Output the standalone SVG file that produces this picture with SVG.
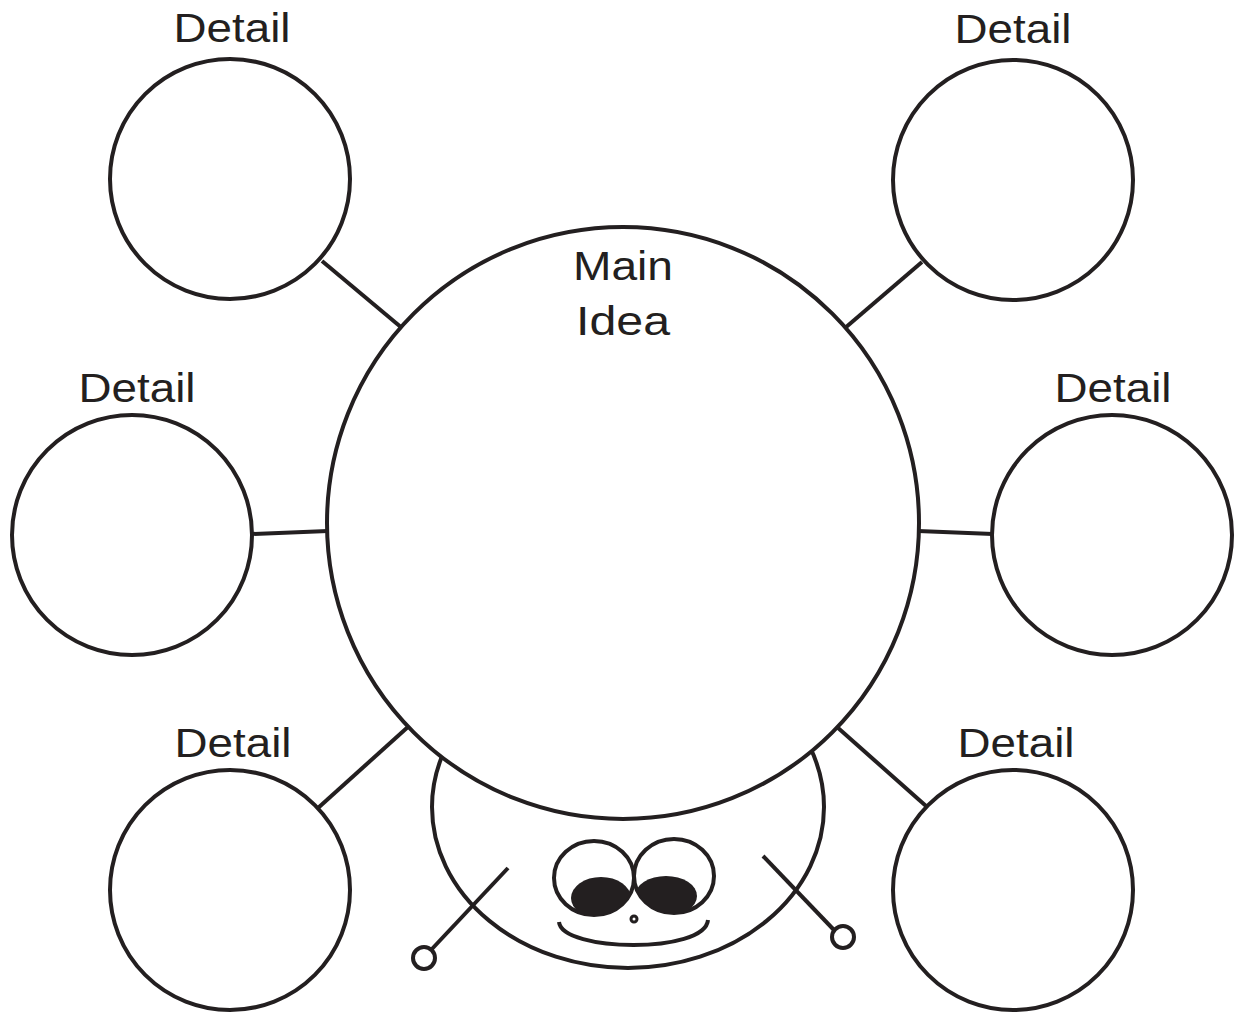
<svg xmlns="http://www.w3.org/2000/svg" width="1239" height="1016" viewBox="0 0 1239 1016">
  <style>
    .ring { fill: #fff; stroke: #231f20; stroke-width: 4; }
    .link { stroke: #231f20; stroke-width: 4; fill: none; }
    .label { font-family: "Liberation Sans", Arial, sans-serif; font-size: 41px; fill: #231f20; text-anchor: middle; }
    .ink { stroke: #231f20; stroke-width: 4; fill: none; stroke-linecap: butt; }
  </style>
  <defs>
    <clipPath id="eyeL"><ellipse cx="594" cy="878" rx="40" ry="37"/></clipPath>
    <clipPath id="eyeR"><ellipse cx="674" cy="876" rx="40" ry="37"/></clipPath>
  </defs>
  <rect width="1239" height="1016" fill="#fff"/>

  <!-- bug head peeking out under the main circle -->
  <g id="bug">
    <ellipse class="ring" cx="628" cy="807" rx="196" ry="161"/>
    <line class="ink" x1="508" y1="868" x2="431" y2="950"/>
    <circle class="ring" cx="424" cy="958" r="11"/>
    <line class="ink" x1="763" y1="856" x2="834" y2="930"/>
    <circle class="ring" cx="843" cy="937" r="11"/>
    <ellipse class="ring" cx="594" cy="878" rx="40" ry="37"/>
    <ellipse class="ring" cx="674" cy="876" rx="40" ry="37"/>
    <ellipse cx="601" cy="898" rx="30" ry="21" fill="#231f20" clip-path="url(#eyeL)"/>
    <ellipse cx="666" cy="896" rx="31" ry="20" fill="#231f20" clip-path="url(#eyeR)"/>
    <circle cx="634" cy="919" r="3" fill="#fff" stroke="#231f20" stroke-width="3"/>
    <path class="ink" d="M559,922 C562,952 705,954 708,920"/>
  </g>

  <g id="connectors">
    <line class="link" x1="322" y1="261" x2="402" y2="328"/>
    <line class="link" x1="922" y1="262" x2="845" y2="328"/>
    <line class="link" x1="252" y1="534" x2="328" y2="531"/>
    <line class="link" x1="918" y1="531" x2="993" y2="534"/>
    <line class="link" x1="318" y1="808" x2="409" y2="726"/>
    <line class="link" x1="837" y1="727" x2="926" y2="806"/>
  </g>

  <g id="main-idea">
    <circle class="ring" cx="623" cy="523" r="296"/>
    <text class="label" x="623" y="280" textLength="100" lengthAdjust="spacingAndGlyphs">Main</text>
    <text class="label" x="623" y="335" textLength="94" lengthAdjust="spacingAndGlyphs">Idea</text>
  </g>

  <g id="detail-top-left">
    <circle class="ring" cx="230" cy="179" r="120"/>
    <text class="label" x="232" y="42" textLength="117" lengthAdjust="spacingAndGlyphs">Detail</text>
  </g>
  <g id="detail-top-right">
    <circle class="ring" cx="1013" cy="180" r="120"/>
    <text class="label" x="1013" y="43" textLength="117" lengthAdjust="spacingAndGlyphs">Detail</text>
  </g>
  <g id="detail-mid-left">
    <circle class="ring" cx="132" cy="535" r="120"/>
    <text class="label" x="137" y="402" textLength="117" lengthAdjust="spacingAndGlyphs">Detail</text>
  </g>
  <g id="detail-mid-right">
    <circle class="ring" cx="1112" cy="535" r="120"/>
    <text class="label" x="1113" y="402" textLength="117" lengthAdjust="spacingAndGlyphs">Detail</text>
  </g>
  <g id="detail-bottom-left">
    <circle class="ring" cx="230" cy="890" r="120"/>
    <text class="label" x="233" y="757" textLength="117" lengthAdjust="spacingAndGlyphs">Detail</text>
  </g>
  <g id="detail-bottom-right">
    <circle class="ring" cx="1013" cy="890" r="120"/>
    <text class="label" x="1016" y="757" textLength="117" lengthAdjust="spacingAndGlyphs">Detail</text>
  </g>
</svg>
